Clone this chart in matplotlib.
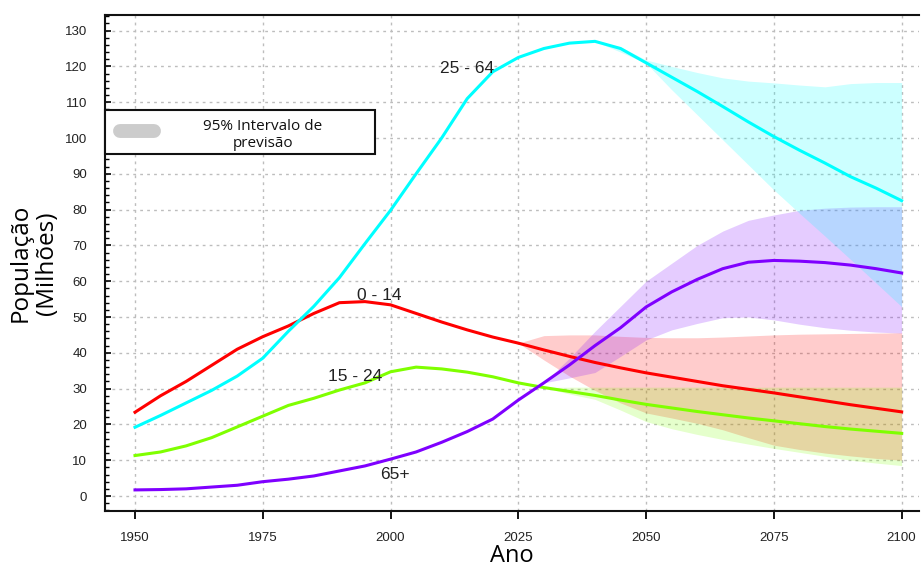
import matplotlib
matplotlib.use("Agg")
import matplotlib.pyplot as plt
from matplotlib.patches import Rectangle
from matplotlib.ticker import MultipleLocator

# ---------------- data ----------------
years = list(range(1950, 2101, 5))

age_0_14 = [23.4, 28.0, 32.0, 36.5, 41.0, 44.5, 47.5, 51.0, 54.0, 54.3,
            53.4, 51.0, 48.6, 46.4, 44.4, 42.7, 40.8, 39.0, 37.3, 35.8,
            34.4, 33.2, 32.0, 30.8, 29.8, 28.8, 27.7, 26.6, 25.5, 24.5, 23.5]

age_15_24 = [11.3, 12.3, 14.0, 16.3, 19.3, 22.3, 25.3, 27.3, 29.6, 31.6,
             34.7, 36.0, 35.5, 34.6, 33.3, 31.6, 30.3, 29.2, 28.1, 26.8,
             25.6, 24.6, 23.6, 22.7, 21.8, 21.0, 20.2, 19.4, 18.7, 18.1, 17.5]

age_25_64 = [19.2, 22.5, 26.0, 29.5, 33.5, 38.5, 46.0, 53.0, 61.0, 70.5,
             79.8, 90.0, 100.0, 111.0, 118.5, 122.5, 125.0, 126.5, 127.0, 125.0,
             121.0, 117.0, 113.0, 108.8, 104.5, 100.4, 96.6, 93.0, 89.2, 86.0, 82.5]

age_65 = [1.7, 1.8, 2.0, 2.5, 3.0, 4.0, 4.7, 5.6, 7.0, 8.4,
          10.3, 12.3, 15.0, 18.0, 21.5, 26.8, 31.6, 36.6, 42.0, 47.0,
          52.8, 57.0, 60.5, 63.5, 65.3, 65.8, 65.6, 65.2, 64.5, 63.5, 62.3]

# 95% prediction intervals
band_0_14_years = list(range(2025, 2101, 5))
band_0_14_low = [42.7, 38.0, 33.5, 29.5, 26.0, 23.2, 21.8, 20.3, 18.5, 16.3,
                 14.2, 13.0, 12.0, 11.2, 10.5, 10.0]
band_0_14_high = [42.7, 44.8, 45.0, 45.0, 44.6, 44.3, 44.2, 44.2, 44.4, 44.7,
                  45.0, 45.2, 45.3, 45.4, 45.5, 45.6]

band_15_24_years = list(range(2030, 2101, 5))
band_15_24_low = [30.3, 28.5, 27.0, 24.0, 20.8, 18.8, 17.2, 15.8, 14.5, 13.3,
                  12.2, 11.1, 10.0, 9.2, 8.5]
band_15_24_high = [30.3, 30.4, 30.4, 30.4, 30.4, 30.4, 30.4, 30.4, 30.4, 30.4,
                   30.4, 30.4, 30.4, 30.4, 30.4]

band_25_64_years = list(range(2040, 2101, 5))
band_25_64_low = [127.0, 124.0, 120.9, 113.5, 106.5, 99.5, 92.5, 85.5, 79.0,
                  72.6, 66.1, 59.5, 52.9]
band_25_64_high = [127.0, 125.5, 121.8, 120.0, 118.3, 116.8, 115.9, 115.4,
                   114.8, 114.3, 115.2, 115.5, 115.5]

band_65_years = list(range(2030, 2101, 5))
band_65_low = [31.6, 33.0, 34.5, 39.0, 43.6, 46.4, 48.2, 49.8, 50.0, 49.2,
               48.0, 47.0, 46.3, 45.8, 45.5]
band_65_high = [31.6, 38.5, 46.0, 53.0, 60.0, 65.0, 70.0, 74.0, 77.0, 78.5,
                79.8, 80.4, 80.7, 80.8, 80.8]

series_labels = ["0 - 14", "15 - 24", "25 - 64", "65+"]
label_pos = [(1997.8, 55.9), (1993.0, 33.4), (2014.9, 119.5), (2000.9, 5.9)]

legend_text = "95% Intervalo de\nprevisão"
x_ticks = [1950, 1975, 2000, 2025, 2050, 2075, 2100]
y_ticks = list(range(0, 131, 10))

# ---------------- styling ----------------
c_red, c_green, c_cyan, c_purple = "#FF0000", "#7FFF00", "#00FFFF", "#7F00FF"
band_alpha = 0.2

fig = plt.figure(figsize=(9.21, 5.71), dpi=100)
ax = fig.add_axes([105 / 921, 1 - 511 / 571, 814 / 921, 496 / 571])

ax.fill_between(band_0_14_years, band_0_14_low, band_0_14_high,
                color=c_red, alpha=band_alpha, lw=0)
ax.fill_between(band_15_24_years, band_15_24_low, band_15_24_high,
                color=c_green, alpha=band_alpha, lw=0)
ax.fill_between(band_65_years, band_65_low, band_65_high,
                color=c_purple, alpha=band_alpha, lw=0)
ax.fill_between(band_25_64_years, band_25_64_low, band_25_64_high,
                color=c_cyan, alpha=band_alpha, lw=0)

lw = 2.2
ax.plot(years, age_0_14, color=c_red, lw=lw)
ax.plot(years, age_15_24, color=c_green, lw=lw)
ax.plot(years, age_25_64, color=c_cyan, lw=lw)
ax.plot(years, age_65, color=c_purple, lw=lw)

for lab, (x, y) in zip(series_labels, label_pos):
    ax.text(x, y, lab, ha="center", va="center", fontsize=12.5,
            family="Liberation Sans", color="#222222")

ax.set_xlim(1944.13, 2103.4)
ax.set_ylim(-4.19, 134.36)
ax.set_xticks(x_ticks)
ax.set_yticks(y_ticks)
ax.yaxis.set_minor_locator(MultipleLocator(2))

ax.grid(True, which="major", color="#BDBDBD", linestyle=(0, (2, 3)), lw=1)
ax.set_axisbelow(True)

for lab in ax.get_xticklabels() + ax.get_yticklabels():
    lab.set_family("Liberation Sans")
    lab.set_fontsize(9.5)
    lab.set_color("#222222")

ax.tick_params(axis="x", direction="out", length=6, width=1.3, pad=9)
ax.tick_params(axis="y", which="major", direction="in", length=4, width=1.2, pad=13)
ax.tick_params(axis="y", which="minor", direction="in", length=3, width=1.0)

for side in ["left", "bottom", "top"]:
    ax.spines[side].set_linewidth(1.5)
    ax.spines[side].set_color("#111111")
ax.spines["right"].set_visible(False)

ax.set_xlabel("Ano", fontsize=17, family="Open Sans", labelpad=0)
ax.set_ylabel("População\n(Milhões)", fontsize=17.5, family="Open Sans", labelpad=4,
              linespacing=1.15)

# legend box (prediction interval)
ax.add_patch(Rectangle((0.0, 0.7198), 0.3317, 0.0887, transform=ax.transAxes,
                       facecolor="white", edgecolor="#111111", lw=1.5, zorder=5,
                       clip_on=False))
ax.plot([0.0184, 0.0602], [0.766, 0.766], transform=ax.transAxes,
        color="#CCCCCC", lw=10, solid_capstyle="round", zorder=6)
ax.text(0.194, 0.758, legend_text, transform=ax.transAxes, ha="center",
        va="center", fontsize=11, family="Open Sans", linespacing=1.2,
        color="#111111", zorder=7)

fig.savefig("out.png", dpi=100)
